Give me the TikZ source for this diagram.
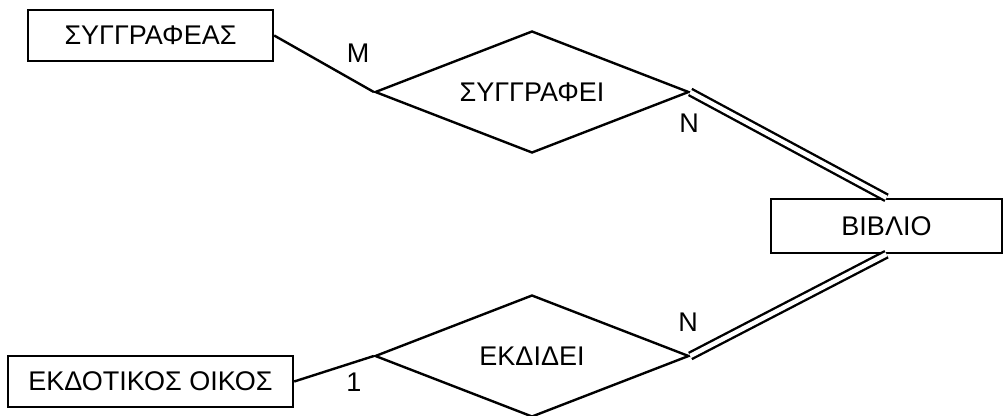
\documentclass[tikz,border=0pt]{standalone}
\usepackage{fontspec}
\setmainfont{Liberation Sans}
\usetikzlibrary{shapes.geometric}

\begin{document}
\begin{tikzpicture}[x = 1pt, y = -1pt, line width = 2.4pt,
		every node/.style = {font = \fontsize{27}{32}\selectfont},
		entity/.style = {draw, rectangle, minimum height = 51pt, inner sep = 0pt},
		relation/.style = {draw, diamond, aspect = 2.6, minimum width = 314pt, minimum height = 122pt, inner sep = 0pt},
		total/.style = {double, double distance = 4.5pt}]
		\useasboundingbox (0, 0) rectangle (1004, 415);
		% entities
		\node [entity, minimum width = 245pt] (author) at (150.5, 35.5) {ΣΥΓΓΡΑΦΕΑΣ};
		\node [entity, minimum width = 231pt, minimum height = 54pt] (book) at (886.5, 226) {ΒΙΒΛΙΟ};
		\node [entity, minimum width = 285pt] (publisher) at (150.5, 381.5) {ΕΚΔΟΤΙΚΟΣ ΟΙΚΟΣ};
		% relationships
		\node [relation] (writes) at (532, 92) {ΣΥΓΓΡΑΦΕΙ};
		\node [relation] (publishes) at (532, 356) {ΕΚΔΙΔΕΙ};
		% connections
		\draw (author.east) -- (writes.west);
		\draw [total] (writes.east) -- (book.north);
		\draw [total] (book.south) -- (publishes.east);
		\draw (publishes.west) -- (publisher.east);
		% cardinalities
		\node (cardM) at (358, 53) {M};
		\node (cardNw) at (689, 123) {N};
		\node (cardNp) at (688, 322) {N};
		\node (cardOne) at (354, 382) {1};
	\end{tikzpicture}
\end{document}
